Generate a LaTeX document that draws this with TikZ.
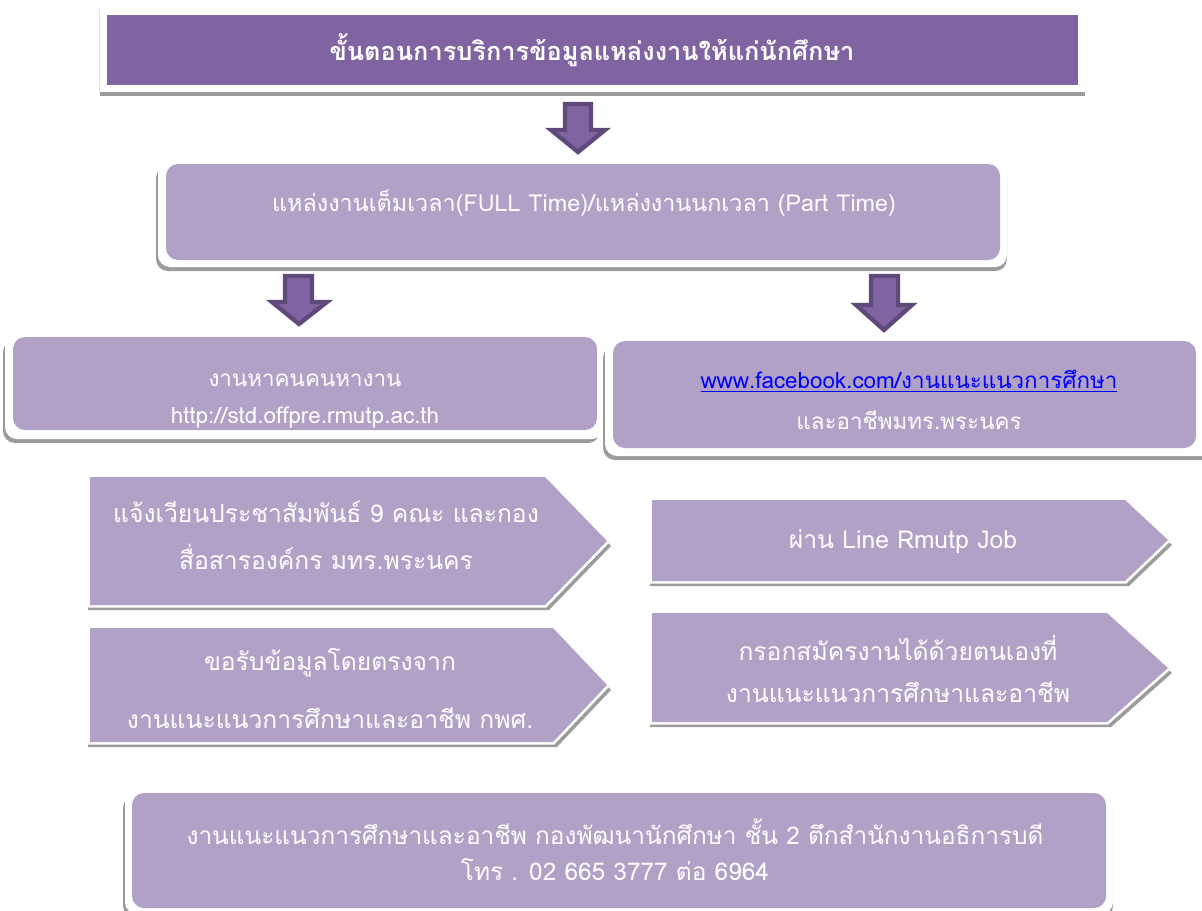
\documentclass[tikz,border=0pt]{standalone}
\usepackage{fontspec}
\newfontfamily\thai[Script=Thai]{Loma}
\usetikzlibrary{calc}
\definecolor{dpurple}{HTML}{8064A2}
\definecolor{lpurple}{HTML}{B2A1C7}
\definecolor{aborder}{HTML}{5F497A}
\definecolor{shad}{HTML}{9C9C9C}
\definecolor{linkblue}{HTML}{0000FF}
\tikzset{
  txt/.style={font=\thai\fontsize{17.5}{20}\selectfont, text=white, inner sep=0pt, anchor=center},
  txtb/.style={txt, font=\thai\fontsize{16.8}{20}\selectfont},
  txtp/.style={txt, font=\thai\fontsize{18.5}{22}\selectfont},
  txtf/.style={txt, font=\thai\fontsize{18.3}{22}\selectfont},
  ttl/.style={font=\thai\bfseries\fontsize{19}{22}\selectfont, text=white, inner sep=0pt},
  shadowshape/.style={fill=shad},
  boxshape/.style={fill=lpurple},
  rbox/.style={rounded corners=9pt},
  blockarrow/.style={fill=dpurple, draw=aborder, line width=3.2pt, line join=miter},
  pentframe/.style={fill=white, draw=white, line width=4pt},
}
\begin{document}
\begin{tikzpicture}[x=0.75pt,y=-0.75pt]
\useasboundingbox (0,0) rectangle (1202,910);
% ---------- Title ----------
\fill[shadowshape] (100,12) rectangle (1085,96);
\fill[white] (99,9) rectangle (1085,92);
\draw[black!10, line width=0.5pt] (99,92) -- (99,9);
\fill[dpurple] (107,15) rectangle (1078,85);
\node[ttl] (title) at (592,50) {ขั้นตอนการบริการข้อมูลแหล่งงานให้แก่นักศึกษา};
% ---------- Arrow 1 ----------
\draw[blockarrow] (565,104) -- (591,104) -- (591,130) -- (605,130) -- (578,152) -- (551,130) -- (565,130) -- cycle;
% ---------- Box 2 ----------
\fill[shadowshape, rbox] (156,166) rectangle (1007,271);
\fill[white, rbox] (158,157) rectangle (1007,267);
\fill[boxshape, rbox] (166,164) rectangle (1000,260);
\node[txt] (jobs) at (584,203) {แหล่งงานเต็มเวลา(FULL Time)/แหล่งงานนกเวลา (Part Time)};
% ---------- Arrows 2 ----------
\draw[blockarrow] (285,276) -- (312,276) -- (312,302) -- (327,302) -- (299,324) -- (272,302) -- (285,302) -- cycle;
\draw[blockarrow] (871,276) -- (898,276) -- (898,305) -- (912,305) -- (884,330) -- (856,305) -- (871,305) -- cycle;
% ---------- Box 3 left ----------
\fill[shadowshape, rbox] (3,340) rectangle (600,443);
\fill[white, rbox] (5,330) rectangle (604,439);
\fill[boxshape, rbox] (13,337) rectangle (597,430);
\node[txtb] (l3a) at (305,380) {งานหาคนคนหางาน};
\node[txtb] (l3b) at (305,418) {http://std.offpre.rmutp.ac.th};
% ---------- Box 3 right ----------
\fill[shadowshape, rbox] (603,346) rectangle (1216,460);
\fill[white, rbox] (605,334) rectangle (1216,456);
\fill[boxshape, rbox] (613,341) rectangle (1196,448);
\node[txtb, text=linkblue] (r3a) at (909,381) {\underline{www.facebook.com/งานแนะแนวการศึกษา}};
\node[txtb] (r3b) at (909,420) {และอาชีพมทร.พระนคร};
% ---------- Pentagons left ----------
\fill[shadowshape] (88,482) -- (547,482) -- (611,546) -- (549,610) -- (88,610) -- cycle;
\draw[pentframe] (90,477) -- (545,477) -- (607,541) -- (545,605) -- (90,605) -- cycle;
\fill[boxshape] (90,477) -- (545,477) -- (607,541) -- (545,605) -- (90,605) -- cycle;
\node[txtp] (l1a) at (326,512) {แจ้งเวียนประชาสัมพันธ์ 9 คณะ และกอง};
\node[txtp] (l1b) at (326,557) {สื่อสารองค์กร มทร.พระนคร};
\fill[shadowshape] (88,633) -- (555,633) -- (611,690) -- (557,747) -- (88,747) -- cycle;
\draw[pentframe] (90,628) -- (553,628) -- (607,685) -- (553,742) -- (90,742) -- cycle;
\fill[boxshape] (90,628) -- (553,628) -- (607,685) -- (553,742) -- (90,742) -- cycle;
\node[txtp] (l2a) at (330,663) {ขอรับข้อมูลโดยตรงจาก};
\node[txtp] (l2b) at (330,718) {งานแนะแนวการศึกษาและอาชีพ กพศ.};
% ---------- Pentagons right ----------
\fill[shadowshape] (650,505) -- (1127,505) -- (1172,545) -- (1129,586) -- (650,586) -- cycle;
\draw[pentframe] (652,500) -- (1125,500) -- (1168,540) -- (1125,581) -- (652,581) -- cycle;
\fill[boxshape] (652,500) -- (1125,500) -- (1168,540) -- (1125,581) -- (652,581) -- cycle;
\node[txtp] (r1) at (903,541) {ผ่าน Line Rmutp Job};
\fill[shadowshape] (650,618) -- (1109,618) -- (1172,673) -- (1111,727) -- (650,727) -- cycle;
\draw[pentframe] (652,613) -- (1107,613) -- (1168,668) -- (1107,722) -- (652,722) -- cycle;
\fill[boxshape] (652,613) -- (1107,613) -- (1168,668) -- (1107,722) -- (652,722) -- cycle;
\node[txtp] (r2a) at (898,648) {กรอกสมัครงานได้ด้วยตนเองที่};
\node[txtp] (r2b) at (898,692) {งานแนะแนวการศึกษาและอาชีพ};
% ---------- Bottom box ----------
\fill[shadowshape, rbox] (123,796) rectangle (1113,918);
\fill[white, rbox] (125,786) rectangle (1113,914);
\fill[boxshape, rbox] (132,793) rectangle (1106,908);
\node[txtf] (b1) at (615,832) {งานแนะแนวการศึกษาและอาชีพ กองพัฒนานักศึกษา ชั้น 2 ตึกสำนักงานอธิการบดี};
\node[txtf] (b2) at (615,870) {โทร . 02 665 3777 ต่อ 6964};
\end{tikzpicture}
\end{document}
